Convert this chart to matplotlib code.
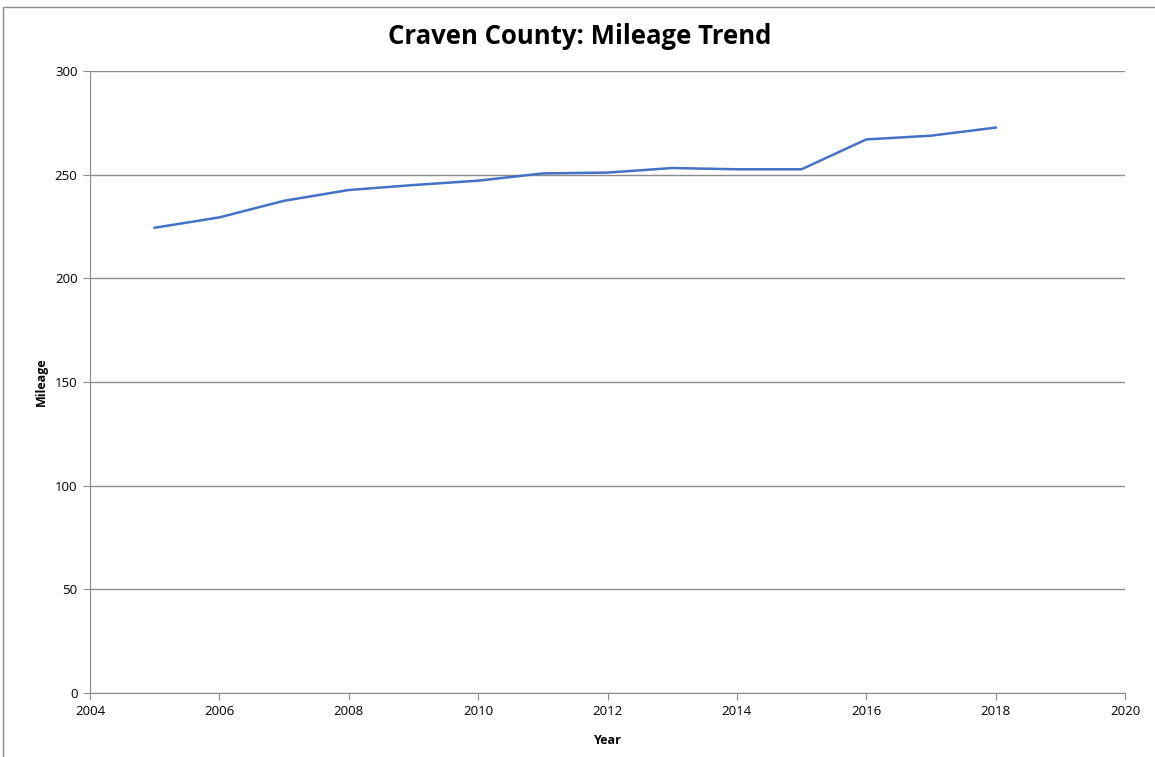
import matplotlib.pyplot as plt
from matplotlib.patches import Rectangle

# Mileage by year
years = [2005, 2006, 2007, 2008, 2009, 2010, 2011, 2012, 2013, 2014, 2015, 2016, 2017, 2018]
mileage = [224.4, 229.4, 237.4, 242.6, 245.0, 247.1, 250.6, 251.0, 253.2, 252.6, 252.6, 267.0, 268.8, 272.7]

x_ticks = list(range(2004, 2021, 2))
y_ticks = list(range(0, 301, 50))

plt.rcParams['font.family'] = ['Open Sans', 'DejaVu Sans']

W, H = 1155, 757
fig = plt.figure(figsize=(W / 100, H / 100), dpi=100)

# outer chart border
fig.patches.append(Rectangle((3 / W, -0.05), (W + 20) / W, (H - 7) / H + 0.05,
                             transform=fig.transFigure, fill=False,
                             edgecolor='#8c8c8c', linewidth=1.0))

ax = fig.add_axes([90 / W, 1 - 693 / H, (1125 - 90) / W, (693 - 71) / H])
ax.plot(years, mileage, color='#4472c4', linewidth=1.8)

ax.set_xlim(2004, 2020)
ax.set_ylim(0, 300)
ax.set_xticks(x_ticks)
ax.set_yticks(y_ticks)
ax.yaxis.grid(True, color='#8c8c8c', linewidth=1)
ax.set_axisbelow(True)
for side in ['top', 'right']:
    ax.spines[side].set_visible(False)
for side in ['left', 'bottom']:
    ax.spines[side].set_color('#8c8c8c')
ax.tick_params(axis='both', colors='#8c8c8c', labelcolor='black', labelsize=9.5, length=5)
ax.tick_params(axis='y', pad=4)

ax.set_xlabel('Year', fontsize=9, fontweight='bold', labelpad=12)
ax.set_ylabel('Mileage', fontsize=9, fontweight='bold', labelpad=5)
fig.text(580 / W, 1 - 37 / H, 'Craven County: Mileage Trend', fontsize=18.5,
         fontweight='bold', ha='center', va='center')

fig.savefig('out.png', dpi=100)
